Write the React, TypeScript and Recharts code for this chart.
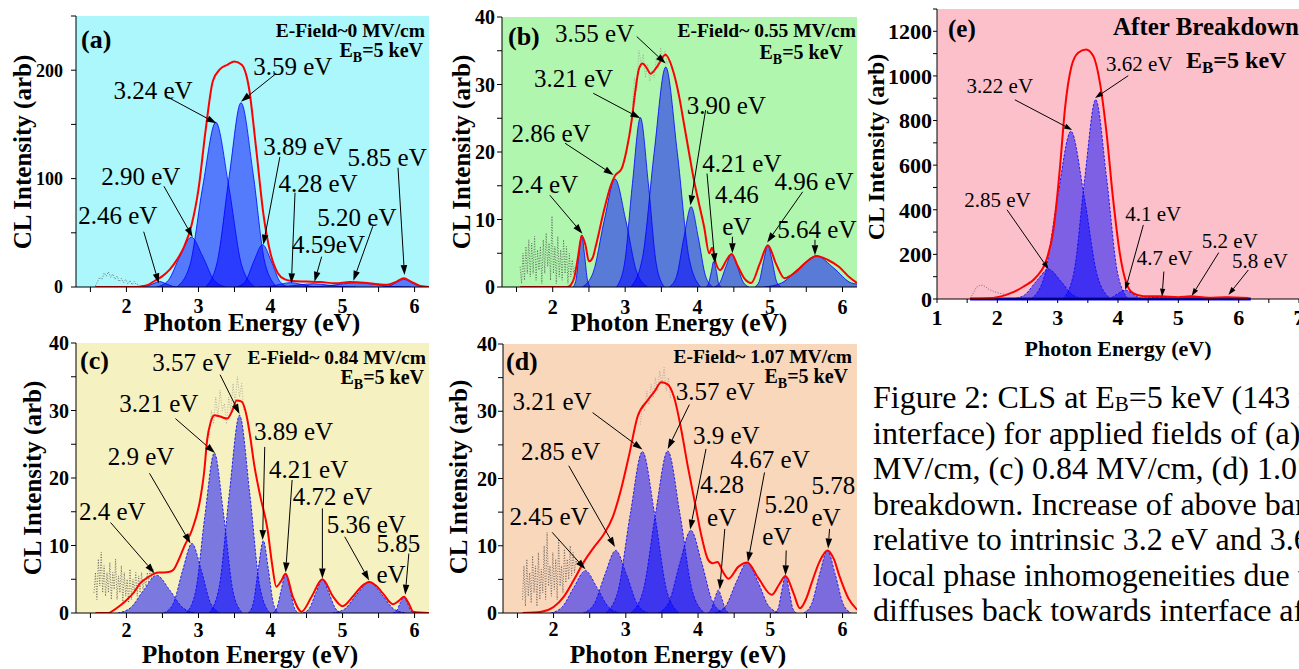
import React from "react";
import {
  ComposedChart,
  Area,
  Line,
  XAxis,
  YAxis,
  CartesianGrid,
  ReferenceLine,
  ReferenceDot,
} from "recharts";

type XY = [number, number];
type Note = { t: string; at: XY; from?: XY; to?: XY };

const FONT = "'Liberation Serif', 'Times New Roman', serif";

// ---------- (a) E-Field ~0 MV/cm ----------
const peaksA: XY[][] = [
  [[2.19, 0], [2.28, 0.7], [2.37, 3], [2.46, 5], [2.55, 3], [2.64, 0.7], [2.73, 0]],
  [[2.42, 0], [2.58, 6], [2.74, 28], [2.9, 46], [3.06, 28], [3.22, 6], [3.38, 0]],
  [[2.7, 0], [2.88, 20], [3.06, 93], [3.24, 152], [3.42, 93], [3.6, 20], [3.78, 0]],
  [[3.1, 0], [3.26, 23], [3.43, 104], [3.59, 170], [3.76, 104], [3.92, 23], [4.09, 0]],
  [[3.53, 0], [3.65, 5], [3.77, 24], [3.89, 39], [4.01, 24], [4.13, 5], [4.25, 0]],
  [[3.83, 0], [3.98, 0.5], [4.13, 2.4], [4.28, 4], [4.43, 2.4], [4.58, 0.5], [4.73, 0]],
  [[3.99, 0], [4.19, 0.4], [4.39, 1.8], [4.59, 3], [4.79, 1.8], [4.99, 0.4], [5.19, 0]],
  [[4.45, 0], [4.7, 0.5], [4.95, 2.4], [5.2, 4], [5.45, 2.4], [5.7, 0.5], [5.95, 0]],
  [[5.55, 0], [5.65, 1], [5.75, 4.3], [5.85, 7], [5.95, 4.3], [6.05, 1], [6.15, 0]],
];
const envA: XY[] = [
  [1.57, 0], [2.1, 0], [2.2, 0.5], [2.3, 2], [2.4, 6], [2.5, 10], [2.6, 16], [2.7, 25],
  [2.8, 37], [2.9, 56], [3.0, 90], [3.1, 145], [3.2, 190], [3.3, 201], [3.4, 205], [3.5, 208],
  [3.6, 205], [3.7, 184], [3.8, 128], [3.9, 68], [4.0, 31], [4.1, 13], [4.2, 7], [4.3, 5.5],
  [4.5, 5], [4.7, 4.5], [4.9, 3.5], [5.1, 4.5], [5.3, 4], [5.5, 2.5], [5.62, 2], [5.75, 5],
  [5.85, 8], [5.95, 5], [6.08, 1], [6.2, 0],
];
const noiseA: XY[][] = [[
  [1.57, 1], [1.6, 5], [1.63, 9], [1.66, 7], [1.69, 13], [1.72, 10], [1.75, 14], [1.78, 9],
  [1.81, 12], [1.84, 7], [1.87, 10], [1.9, 5], [1.93, 8], [1.96, 4], [1.99, 7], [2.02, 3],
  [2.05, 6], [2.08, 2], [2.11, 5], [2.14, 2], [2.17, 3],
]];
const notesA: Note[] = [
  { t: "2.46 eV", at: [1.33, 58], from: [2.24, 51], to: [2.45, 3.4] },
  { t: "2.90 eV", at: [1.65, 94], from: [2.52, 93], to: [2.92, 46] },
  { t: "3.24 eV", at: [1.82, 173], from: [2.55, 176], to: [3.25, 151] },
  { t: "3.59 eV", at: [3.76, 196], from: [4.08, 197], to: [3.59, 171] },
  { t: "3.89 eV", at: [3.9, 122], from: [4.13, 120], to: [3.9, 39] },
  { t: "4.28 eV", at: [4.11, 88], from: [4.34, 87], to: [4.29, 3.4] },
  { t: "4.59eV", at: [4.3, 31], from: [4.71, 28], to: [4.61, 4.9] },
  { t: "5.20 eV", at: [4.65, 56], from: [5.42, 56], to: [5.15, 5.8] },
  { t: "5.85 eV", at: [5.07, 112], from: [5.77, 110], to: [5.86, 11] },
];

// ---------- (b) E-Field ~0.55 MV/cm ----------
const peaksB: XY[][] = [
  [[2.28, 0], [2.32, 1], [2.36, 4.7], [2.4, 7.7], [2.44, 4.7], [2.48, 1], [2.52, 0]],
  [[2.41, 0], [2.56, 2.2], [2.71, 9.8], [2.86, 16], [3.01, 9.8], [3.16, 2.2], [3.31, 0]],
  [[2.88, 0], [2.99, 3.4], [3.1, 15.3], [3.21, 25.1], [3.32, 15.3], [3.43, 3.4], [3.54, 0]],
  [[3.08, 0], [3.24, 4.4], [3.4, 19.9], [3.56, 32.6], [3.72, 19.9], [3.88, 4.4], [4.04, 0]],
  [[3.61, 0], [3.71, 1.6], [3.81, 7.3], [3.91, 11.9], [4.01, 7.3], [4.11, 1.6], [4.21, 0]],
  [[4.12, 0], [4.15, 0.5], [4.19, 2.3], [4.22, 3.75], [4.26, 2.3], [4.29, 0.5], [4.33, 0]],
  [[4.23, 0], [4.31, 0.7], [4.39, 3], [4.47, 4.9], [4.55, 3], [4.63, 0.7], [4.71, 0]],
  [[4.79, 0], [4.85, 0.8], [4.91, 3.8], [4.97, 6.2], [5.03, 3.8], [5.09, 0.8], [5.15, 0]],
  [[4.92, 0], [5.16, 0.6], [5.4, 2.8], [5.64, 4.6], [5.88, 2.8], [6.12, 0.6], [6.2, 0.45]],
];
const envB: XY[] = [
  [1.55, 0], [2.2, 0], [2.25, 0.3], [2.3, 1.5], [2.35, 4.5], [2.4, 7.6], [2.45, 6.3], [2.5, 3.8],
  [2.55, 4.3], [2.6, 6.3], [2.7, 11], [2.8, 15], [2.86, 16.5], [2.95, 17.5], [3.02, 20.3],
  [3.09, 24.7], [3.14, 29], [3.19, 32.3], [3.24, 33.1], [3.3, 32.4], [3.35, 31.6], [3.45, 32.8],
  [3.555, 34.4], [3.67, 31.7], [3.74, 28.5], [3.81, 24.3], [3.88, 20], [3.95, 15.8], [4.02, 12.3],
  [4.09, 8.9], [4.16, 5], [4.2, 5.8], [4.25, 3.6], [4.31, 2.5], [4.4, 4], [4.47, 4.9], [4.55, 3.2],
  [4.65, 1.2], [4.74, 0.6], [4.86, 3.5], [4.97, 6.2], [5.08, 3.5], [5.2, 1.3], [5.35, 2.2],
  [5.5, 3.7], [5.64, 4.6], [5.8, 4], [5.95, 3], [6.1, 1.4], [6.2, 0.6],
];
const noiseB: XY[][] = [
  [
    [1.55, 3], [1.57, 0.5], [1.59, 5], [1.61, 1], [1.63, 6], [1.65, 2], [1.67, 7], [1.69, 1.5],
    [1.71, 6.5], [1.73, 2], [1.75, 7.5], [1.77, 1], [1.79, 5.5], [1.81, 2.5], [1.83, 6], [1.85, 0.5],
    [1.87, 7], [1.89, 2], [1.91, 8], [1.93, 3], [1.95, 6.5], [1.97, 1], [1.99, 10.5], [2.01, 2],
    [2.03, 6], [2.05, 0.5], [2.07, 7.5], [2.09, 1.5], [2.11, 5.5], [2.13, 1], [2.15, 7], [2.17, 2],
    [2.19, 6], [2.21, 0.5], [2.23, 5], [2.25, 1.5], [2.27, 4], [2.29, 2], [2.31, 3],
  ],
  [
    [3.1, 27], [3.13, 31], [3.16, 29], [3.19, 35], [3.22, 33], [3.25, 34.5], [3.28, 31], [3.31, 33],
    [3.34, 30.5], [3.37, 32], [3.4, 31], [3.43, 34], [3.46, 32.5], [3.49, 35.5], [3.52, 33.5],
    [3.55, 35], [3.58, 33], [3.61, 34],
  ],
];
const notesB: Note[] = [
  { t: "2.4 eV", at: [1.43, 13.9], from: [1.96, 13.6], to: [2.41, 7.9] },
  { t: "2.86 eV", at: [1.43, 21.5], from: [2.17, 21.3], to: [2.84, 16.6] },
  { t: "3.21 eV", at: [1.74, 29.7], from: [2.56, 28.7], to: [3.21, 25] },
  { t: "3.55 eV", at: [2.03, 36.3], from: [3.16, 37.1], to: [3.56, 33.1] },
  { t: "3.90 eV", at: [3.85, 25.7], from: [4.11, 26.2], to: [3.9, 12.1] },
  { t: "4.21 eV", at: [4.065, 17.1], from: [4.13, 16.8], to: [4.24, 3.5] },
  { t: "4.46", at: [4.24, 12.4] },
  { t: "eV", at: [4.34, 7.7], from: [4.48, 7.45], to: [4.48, 5.0] },
  { t: "4.96 eV", at: [5.06, 14.4], from: [5.45, 14.1], to: [4.96, 6.6] },
  { t: "5.64 eV", at: [5.1, 7.2], from: [5.62, 7.0], to: [5.62, 4.7] },
];

// ---------- (c) E-Field ~0.84 MV/cm ----------
const peaksC: XY[][] = [
  [[1.88, 0], [2.06, 0.8], [2.24, 3.4], [2.42, 5.6], [2.6, 3.4], [2.78, 0.8], [2.96, 0]],
  [[2.52, 0], [2.65, 1.4], [2.78, 6.3], [2.91, 10.3], [3.04, 6.3], [3.17, 1.4], [3.3, 0]],
  [[2.83, 0], [2.96, 3.2], [3.09, 14.5], [3.22, 23.7], [3.35, 14.5], [3.48, 3.2], [3.61, 0]],
  [[3.15, 0], [3.29, 4], [3.43, 17.9], [3.57, 29.3], [3.71, 17.9], [3.85, 4], [3.99, 0]],
  [[3.69, 0], [3.76, 1.4], [3.83, 6.5], [3.9, 10.7], [3.97, 6.5], [4.04, 1.4], [4.11, 0]],
  [[4.03, 0], [4.09, 0.8], [4.15, 3.5], [4.21, 5.8], [4.27, 3.5], [4.33, 0.8], [4.39, 0]],
  [[4.45, 0], [4.54, 0.7], [4.63, 3], [4.72, 5], [4.81, 3], [4.9, 0.7], [4.99, 0]],
  [[4.86, 0], [5.03, 0.6], [5.2, 2.8], [5.37, 4.6], [5.54, 2.8], [5.71, 0.6], [5.88, 0]],
  [[5.7, 0], [5.75, 0.3], [5.8, 1.5], [5.85, 2.4], [5.9, 1.5], [5.95, 0.3], [6.0, 0]],
];
const envC: XY[] = [
  [1.57, 0], [1.75, 0], [1.82, 0.4], [1.9, 1], [2.0, 1.9], [2.1, 3], [2.19, 4.4], [2.3, 5.3],
  [2.38, 5.8], [2.45, 6], [2.52, 6], [2.6, 6.1], [2.66, 6.5], [2.73, 8], [2.8, 9.8], [2.91, 12.3],
  [3.03, 17.2], [3.08, 21], [3.12, 25.6], [3.17, 28.3], [3.22, 29.3], [3.3, 29.1], [3.4, 28.8],
  [3.47, 30], [3.53, 31.5], [3.6, 31.3], [3.67, 29.1], [3.72, 26], [3.77, 22.2], [3.86, 17.2],
  [3.96, 12.3], [4.02, 7.4], [4.08, 3.9], [4.14, 4.6], [4.21, 5.8], [4.31, 2.4], [4.43, 0.2],
  [4.57, 2.4], [4.72, 5], [4.87, 2.4], [5.0, 1], [5.14, 2.4], [5.26, 3.9], [5.37, 4.6], [5.47, 4],
  [5.56, 2.9], [5.7, 1.3], [5.78, 1.8], [5.85, 2.4], [5.92, 1.4], [5.98, 0.2], [6.2, 0],
];
const noiseC: XY[][] = [
  [
    [1.55, 3], [1.57, 6], [1.59, 2], [1.61, 8], [1.63, 4], [1.65, 9], [1.67, 3], [1.69, 7],
    [1.71, 2.5], [1.73, 6], [1.75, 3], [1.77, 7.5], [1.79, 2], [1.81, 6], [1.83, 3.5], [1.85, 8],
    [1.87, 2], [1.89, 5.5], [1.91, 3], [1.93, 7], [1.95, 1.5], [1.97, 6], [1.99, 2.5], [2.01, 5],
    [2.03, 1.5], [2.05, 6.5], [2.07, 2], [2.09, 5], [2.11, 3], [2.13, 6], [2.15, 2.5], [2.17, 5.5],
    [2.19, 3], [2.21, 6], [2.23, 3.5], [2.25, 5], [2.27, 4], [2.29, 6], [2.31, 4.5], [2.33, 7],
    [2.35, 5], [2.37, 6.5],
  ],
  [
    [3.15, 26], [3.18, 30], [3.21, 28], [3.24, 32], [3.27, 29], [3.3, 33], [3.33, 30], [3.36, 31],
    [3.39, 28], [3.42, 32], [3.45, 30], [3.48, 34], [3.51, 31], [3.54, 35], [3.57, 32], [3.6, 34],
    [3.63, 30],
  ],
];
const notesC: Note[] = [
  { t: "2.4 eV", at: [1.34, 13.8], from: [1.78, 13.4], to: [2.39, 5.9] },
  { t: "2.9 eV", at: [1.74, 21.9], from: [2.32, 20.7], to: [2.89, 10.3] },
  { t: "3.21 eV", at: [1.9, 29.8], from: [2.68, 28.8], to: [3.23, 23.7] },
  { t: "3.57 eV", at: [2.36, 35.9], from: [3.3, 35.3], to: [3.57, 29.5] },
  { t: "3.89 eV", at: [3.77, 25.6], from: [3.92, 24.6], to: [3.89, 10.8] },
  { t: "4.21 eV", at: [3.98, 20.0], from: [4.3, 19.7], to: [4.21, 6.0] },
  { t: "4.72 eV", at: [4.31, 16.0], from: [4.72, 15.5], to: [4.72, 5.1] },
  { t: "5.36 eV", at: [4.78, 11.8], from: [5.03, 11.3], to: [5.37, 4.8] },
  { t: "5.85", at: [5.47, 9.1] },
  { t: "eV", at: [5.47, 4.4], from: [5.92, 8.8], to: [5.87, 2.7] },
];

// ---------- (d) E-Field ~1.07 MV/cm ----------
const peaksD: XY[][] = [
  [[1.96, 0], [2.12, 0.9], [2.28, 3.8], [2.44, 6.3], [2.6, 3.8], [2.76, 0.9], [2.92, 0]],
  [[2.41, 0], [2.56, 1.3], [2.71, 5.7], [2.86, 9.3], [3.01, 5.7], [3.16, 1.3], [3.31, 0]],
  [[2.72, 0], [2.89, 3.2], [3.06, 14.6], [3.23, 24], [3.4, 14.6], [3.57, 3.2], [3.74, 0]],
  [[3.07, 0], [3.24, 3.3], [3.41, 14.7], [3.58, 24.1], [3.75, 14.7], [3.92, 3.3], [4.09, 0]],
  [[3.45, 0], [3.6, 1.7], [3.75, 7.5], [3.9, 12.3], [4.05, 7.5], [4.2, 1.7], [4.35, 0]],
  [[4.13, 0], [4.18, 0.5], [4.23, 2.1], [4.28, 3.4], [4.33, 2.1], [4.38, 0.5], [4.43, 0]],
  [[4.23, 0], [4.38, 1], [4.53, 4.6], [4.68, 7.5], [4.83, 4.6], [4.98, 1], [5.13, 0]],
  [[5.06, 0], [5.11, 0.7], [5.16, 3.4], [5.21, 5.5], [5.26, 3.4], [5.31, 0.7], [5.36, 0]],
  [[5.46, 0], [5.57, 1.3], [5.68, 5.7], [5.79, 9.3], [5.9, 5.7], [6.01, 1.3], [6.12, 0]],
];
const envD: XY[] = [
  [1.57, 0], [1.83, 0.2], [2.0, 0.9], [2.14, 2.4], [2.28, 4.9], [2.42, 7.6], [2.56, 9.8],
  [2.7, 11.8], [2.82, 14.3], [2.93, 18.2], [3.05, 23.7], [3.16, 29.1], [3.3, 31.6], [3.4, 33],
  [3.49, 34.3], [3.58, 34], [3.67, 32], [3.77, 27.1], [3.86, 21.7], [3.96, 16.2], [4.05, 11.3],
  [4.14, 7.9], [4.2, 7.4], [4.27, 7.6], [4.34, 6.2], [4.42, 5.1], [4.56, 6.9], [4.68, 7.5],
  [4.84, 5.1], [5.02, 2.7], [5.12, 4.2], [5.21, 5.5], [5.32, 3.0], [5.41, 0.7], [5.5, 2.2],
  [5.57, 4.4], [5.68, 7.6], [5.79, 9.3], [5.88, 8], [5.96, 5.4], [6.08, 2.2], [6.2, 0.5],
];
const noiseD: XY[][] = [
  [
    [1.57, 2], [1.59, 7], [1.61, 1], [1.63, 8], [1.65, 2.5], [1.67, 6], [1.69, 1.5], [1.71, 8.5],
    [1.73, 3], [1.75, 7], [1.77, 1], [1.79, 9], [1.81, 2], [1.83, 6.5], [1.85, 3], [1.87, 10],
    [1.89, 2], [1.91, 12], [1.93, 4], [1.95, 7], [1.97, 2.5], [1.99, 9], [2.01, 3.5], [2.03, 8],
    [2.05, 2], [2.07, 11], [2.09, 4], [2.11, 7], [2.13, 3], [2.15, 9.5], [2.17, 4.5], [2.19, 8],
    [2.21, 5], [2.23, 10], [2.25, 5.5], [2.27, 9], [2.29, 6], [2.31, 8], [2.33, 7],
  ],
  [
    [3.2, 28], [3.23, 31], [3.26, 30], [3.29, 33], [3.32, 31], [3.35, 34], [3.38, 32], [3.41, 35],
    [3.44, 33], [3.47, 36], [3.5, 34], [3.53, 36.5], [3.56, 33], [3.59, 35], [3.62, 32],
  ],
];
const notesD: Note[] = [
  { t: "3.21 eV", at: [1.43, 30.2], from: [2.54, 29.8], to: [3.23, 24.3] },
  { t: "3.57 eV", at: [3.69, 31.6], from: [3.88, 31.0], to: [3.58, 24.4] },
  { t: "2.85 eV", at: [1.55, 22.7], from: [2.21, 21.9], to: [2.85, 9.8] },
  { t: "3.9 eV", at: [3.93, 25.1], from: [4.11, 24.4], to: [3.89, 12.4] },
  { t: "4.28", at: [4.03, 17.9] },
  { t: "eV", at: [4.125, 13.0], from: [4.37, 12.5], to: [4.3, 3.5] },
  { t: "4.67 eV", at: [4.45, 21.5], from: [4.92, 20.9], to: [4.69, 7.6] },
  { t: "5.20", at: [4.92, 14.8] },
  { t: "eV", at: [4.89, 10.1], from: [5.22, 9.3], to: [5.21, 5.6] },
  { t: "5.78", at: [5.57, 17.7] },
  { t: "eV", at: [5.57, 13.0], from: [5.82, 12.5], to: [5.8, 9.6] },
  { t: "2.45 eV", at: [1.39, 13.1], from: [1.98, 12.0], to: [2.44, 6.5] },
];

// ---------- (e) after breakdown ----------
const peaksE: XY[][] = [
  [[2.25, 0], [2.45, 18], [2.65, 81], [2.85, 133], [3.05, 81], [3.25, 18], [3.45, 0]],
  [[2.56, 0], [2.78, 102], [3.0, 459], [3.22, 752], [3.44, 459], [3.66, 102], [3.88, 0]],
  [[3.09, 0], [3.27, 121], [3.45, 545], [3.63, 894], [3.81, 545], [3.99, 121], [4.17, 0]],
  [[3.76, 0], [3.88, 5], [4.0, 24], [4.12, 40], [4.24, 24], [4.36, 5], [4.48, 0]],
  [[4.1, 0], [4.3, 1], [4.5, 5], [4.7, 8], [4.9, 5], [5.1, 1], [5.3, 0]],
  [[4.45, 0], [4.7, 1.4], [4.95, 6], [5.2, 10], [5.45, 6], [5.7, 1.4], [5.95, 0]],
  [[5.35, 0], [5.5, 1], [5.65, 5], [5.8, 8], [5.95, 5], [6.1, 1], [6.2, 0]],
];
const envE: XY[] = [
  [1.55, 0], [1.93, 5], [2.21, 25], [2.43, 55], [2.65, 100], [2.82, 180], [2.93, 310],
  [3.04, 595], [3.12, 850], [3.23, 1044], [3.34, 1104], [3.47, 1119], [3.59, 1089], [3.7, 970],
  [3.81, 745], [3.92, 445], [4.03, 205], [4.14, 70], [4.25, 26], [4.42, 12], [4.7, 12], [5.0, 8],
  [5.2, 12], [5.5, 6], [5.8, 8], [6.16, 5],
];
const noiseE: XY[][] = [[
  [1.55, 3], [1.6, 25], [1.65, 52], [1.7, 60], [1.75, 62], [1.8, 56], [1.85, 45], [1.9, 38],
  [2.0, 28], [2.1, 22], [2.2, 20],
]];
const notesE: Note[] = [
  { t: "3.22 eV", at: [1.49, 923], from: [2.29, 893], to: [3.24, 758] },
  { t: "3.62 eV", at: [3.8, 1020], from: [4.17, 1001], to: [3.62, 901] },
  { t: "2.85 eV", at: [1.45, 414], from: [2.16, 400], to: [2.85, 133] },
  { t: "4.1 eV", at: [4.12, 351], from: [4.42, 332], to: [4.12, 40] },
  { t: "4.7 eV", at: [4.31, 153], from: [4.76, 123], to: [4.73, 10] },
  { t: "5.2 eV", at: [5.39, 227], from: [5.67, 208], to: [5.22, 13] },
  { t: "5.8 eV", at: [5.89, 138], from: [6.16, 130], to: [5.83, 18] },
];

const ticksX = [1.5, 2, 2.5, 3, 3.5, 4, 4.5, 5, 5.5, 6];
const ticksXE = [1, 1.5, 2, 2.5, 3, 3.5, 4, 4.5, 5, 5.5, 6, 6.5, 7];
const ticksY40 = [0, 5, 10, 15, 20, 25, 30, 35, 40];
const ticksYA = [0, 50, 100, 150, 200, 250];
const ticksYE = [0, 100, 200, 300, 400, 500, 600, 700, 800, 900, 1000, 1100, 1200, 1300];

const toPts = (a: XY[]) => a.map(([x, y]) => ({ x, y }));

type PanelCfg = {
  left: number; top: number; w: number; h: number;
  xDomain: XY; yDomain: XY; xTicks: number[]; yTicks: number[]; yMajor: number;
  bg: string; peaks: XY[][]; env: XY[]; noise: XY[][]; notes: Note[];
  dashed: boolean; xTickFont: number; yTickFont: number; xTickMargin: number;
  yTickMargin: number; tickSize: number; noteFont: number; head: number; blueBase?: boolean;
};

const panels: PanelCfg[] = [
  { left: 76, top: 16, w: 353, h: 271, xDomain: [1.3, 6.2], yDomain: [0, 250], xTicks: ticksX,
    yTicks: ticksYA, yMajor: 100, bg: "#abf7fb", peaks: peaksA, env: envA, noise: noiseA,
    notes: notesA, dashed: false, xTickFont: 20, yTickFont: 18, xTickMargin: 7, yTickMargin: 8,
    tickSize: 5, noteFont: 25, head: 10 },
  { left: 502, top: 17, w: 355, h: 270, xDomain: [1.3, 6.2], yDomain: [0, 40], xTicks: ticksX,
    yTicks: ticksY40, yMajor: 10, bg: "#b0f6ae", peaks: peaksB, env: envB, noise: noiseB,
    notes: notesB, dashed: false, xTickFont: 20, yTickFont: 20, xTickMargin: 8, yTickMargin: 2,
    tickSize: 5, noteFont: 25, head: 10 },
  { left: 76, top: 343, w: 353, h: 270, xDomain: [1.3, 6.2], yDomain: [0, 40], xTicks: ticksX,
    yTicks: ticksY40, yMajor: 10, bg: "#f6f1c1", peaks: peaksC, env: envC, noise: noiseC,
    notes: notesC, dashed: true, xTickFont: 20, yTickFont: 20, xTickMargin: 5, yTickMargin: 2,
    tickSize: 5, noteFont: 25, head: 10 },
  { left: 503, top: 344, w: 354, h: 269, xDomain: [1.3, 6.2], yDomain: [0, 40], xTicks: ticksX,
    yTicks: ticksY40, yMajor: 10, bg: "#f9d7bb", peaks: peaksD, env: envD, noise: noiseD,
    notes: notesD, dashed: true, xTickFont: 20, yTickFont: 20, xTickMargin: 4, yTickMargin: 1,
    tickSize: 5, noteFont: 25, head: 10 },
  { left: 937, top: 9, w: 362, h: 290, xDomain: [1, 7], yDomain: [0, 1300], xTicks: ticksXE,
    yTicks: ticksYE, yMajor: 200, bg: "#fcc0ca", peaks: peaksE, env: envE, noise: noiseE,
    notes: notesE, dashed: true, xTickFont: 22, yTickFont: 22, xTickMargin: 6, yTickMargin: 1,
    tickSize: 4, noteFont: 21, head: 8, blueBase: true },
];

const makeArrow = (head: number) => (props: any) => {
  const { x1, y1, x2, y2 } = props;
  const ang = Math.atan2(y2 - y1, x2 - x1);
  const bx = x2 - head * Math.cos(ang);
  const by = y2 - head * Math.sin(ang);
  const hw = head * 0.33;
  const px = -Math.sin(ang) * hw;
  const py = Math.cos(ang) * hw;
  return (
    <g>
      <line x1={x1} y1={y1} x2={bx} y2={by} stroke="#000" strokeWidth={1} />
      <polygon points={`${x2},${y2} ${bx + px},${by + py} ${bx - px},${by - py}`} fill="#000" />
    </g>
  );
};

function Panel({ c }: { c: PanelCfg }) {
  const ML = 90, MT = 20, MR = 20, MB = 50;
  const W = c.w + ML + MR;
  const H = c.h + MT + MB;
  const xTick = { fontFamily: FONT, fontWeight: 700, fontSize: c.xTickFont, fill: "#000" };
  const yTick = { fontFamily: FONT, fontWeight: 700, fontSize: c.yTickFont, fill: "#000" };
  const Arrow = makeArrow(c.head);
  const dash = c.dashed ? "2.5 1.5" : undefined;
  return (
    <div style={{ position: "absolute", left: c.left - ML, top: c.top - MT }}>
      <ComposedChart width={W} height={H} margin={{ top: MT, right: MR, bottom: MB - 40, left: ML - 60 }}>
        <CartesianGrid fill={c.bg} fillOpacity={1} horizontal={false} vertical={false} stroke="none" />
        <XAxis type="number" dataKey="x" domain={c.xDomain} ticks={c.xTicks} interval={0}
          allowDataOverflow height={40} tickSize={c.tickSize} tickMargin={c.xTickMargin} tick={xTick}
          tickFormatter={(v: number) => (Number.isInteger(v) ? String(v) : "")} stroke="#000" />
        <YAxis type="number" domain={c.yDomain} ticks={c.yTicks} interval={0} allowDataOverflow
          width={60} tickSize={c.tickSize} tickMargin={c.yTickMargin} tick={yTick}
          tickFormatter={(v: number) => (v % c.yMajor === 0 ? String(v) : "")} stroke="#000" />
        <XAxis xAxisId="m" orientation="top" type="number" domain={c.xDomain} ticks={c.xTicks}
          interval={0} allowDataOverflow height={0} mirror tickSize={4} tickFormatter={() => ""} stroke="#000" />
        <YAxis yAxisId="m" orientation="right" type="number" domain={c.yDomain} ticks={c.yTicks}
          interval={0} allowDataOverflow width={0} mirror tickSize={4} tickFormatter={() => ""} stroke="#000" />
        {c.peaks.map((pk, i) => (
          <Area key={`p${i}`} data={toPts(pk)} dataKey="y" type="monotone" fill="#0000ff"
            fillOpacity={0.5} stroke="#0000ff" strokeWidth={0.8} strokeDasharray={dash}
            dot={false} activeDot={false} isAnimationActive={false} />
        ))}
        {c.noise.map((seg, i) => (
          <Line key={`n${i}`} data={toPts(seg)} dataKey="y" type="linear" stroke={i === 0 ? "#555" : "#888"}
            strokeWidth={i === 0 ? 0.8 : 0.6} strokeDasharray="1 1.6" dot={false} activeDot={false}
            isAnimationActive={false} />
        ))}
        {c.blueBase && (
          <ReferenceLine segment={[{ x: 1.55, y: 0 }, { x: 6.2, y: 0 }]} stroke="#0000ff"
            strokeWidth={3} ifOverflow="visible" />
        )}
        <Line data={toPts(c.env)} dataKey="y" type="monotone" stroke="#ff0000" strokeWidth={2}
          dot={false} activeDot={false} isAnimationActive={false} />
        {c.notes.filter((n) => n.from && n.to).map((n, i) => (
          <ReferenceLine key={`a${i}`} ifOverflow="visible"
            segment={[{ x: n.from![0], y: n.from![1] }, { x: n.to![0], y: n.to![1] }]} shape={Arrow} />
        ))}
        {c.notes.map((n, i) => (
          <ReferenceDot key={`t${i}`} x={n.at[0]} y={n.at[1]} r={0} ifOverflow="visible"
            shape={(p: any) => (
              <text x={p.cx} y={p.cy} fontFamily={FONT} fontSize={c.noteFont} fill="#000">{n.t}</text>
            )} />
        ))}
      </ComposedChart>
    </div>
  );
}

// ---------- overlay text (titles, panel tags, caption) ----------
const yTitles = [
  { x: 22, y: 152, s: 25 }, { x: 461, y: 152, s: 25 }, { x: 32, y: 478, s: 25 },
  { x: 458, y: 477, s: 25 }, { x: 876, y: 147, s: 24 },
];
const xTitles = [
  { x: 252, y: 331, s: 25.5 }, { x: 679, y: 331, s: 25.5 }, { x: 250, y: 663, s: 25.5 },
  { x: 678, y: 663, s: 25.5 }, { x: 1118, y: 356, s: 22 },
];
const tags = [
  { t: "(a)", x: 81, y: 48, s: 26 }, { t: "(b)", x: 508, y: 45, s: 26 },
  { t: "(c)", x: 80, y: 369, s: 26 }, { t: "(d)", x: 506, y: 370, s: 26 },
  { t: "(e)", x: 948, y: 37, s: 25 },
];
const fields = [
  { t: "E-Field~0 MV/cm", x: 425, y: 37 }, { t: "E-Field~ 0.55 MV/cm", x: 856, y: 37 },
  { t: "E-Field~ 0.84 MV/cm", x: 426, y: 364 }, { t: "E-Field~ 1.07 MV/cm", x: 852, y: 363 },
];
const beams = [
  { x: 423, y: 57 }, { x: 843, y: 59 }, { x: 424, y: 384 }, { x: 848, y: 383 },
];
const captionLines = [
  "interface) for applied fields of (a) 0,",
  "MV/cm, (c) 0.84 MV/cm, (d) 1.07",
  "breakdown. Increase of above band",
  "relative to intrinsic 3.2 eV and 3.6",
  "local phase inhomogeneities due to",
  "diffuses back towards interface after",
];

function Overlay() {
  return (
    <svg width={1299} height={669} style={{ position: "absolute", left: 0, top: 0, pointerEvents: "none" }}
      fontFamily={FONT}>
      {yTitles.map((t, i) => (
        <text key={`y${i}`} transform={`translate(${t.x},${t.y}) rotate(-90)`} textAnchor="middle"
          dominantBaseline="central" fontWeight={700} fontSize={t.s}>CL Intensity (arb)</text>
      ))}
      {xTitles.map((t, i) => (
        <text key={`x${i}`} x={t.x} y={t.y} textAnchor="middle" fontWeight={700} fontSize={t.s}>
          Photon Energy (eV)
        </text>
      ))}
      {tags.map((t, i) => (
        <text key={`g${i}`} x={t.x} y={t.y} fontWeight={700} fontSize={t.s}>{t.t}</text>
      ))}
      {fields.map((t, i) => (
        <text key={`f${i}`} x={t.x} y={t.y} textAnchor="end" fontWeight={700} fontSize={19.5}>{t.t}</text>
      ))}
      {beams.map((t, i) => (
        <text key={`b${i}`} x={t.x} y={t.y} textAnchor="end" fontWeight={700} fontSize={20}>
          E<tspan fontSize={14} dy={5}>B</tspan><tspan dy={-5}>=5 keV</tspan>
        </text>
      ))}
      <text x={1113} y={35} fontWeight={700} fontSize={25}>After Breakdown</text>
      <text x={1186} y={68} fontWeight={700} fontSize={24}>
        E<tspan fontSize={17} dy={5}>B</tspan><tspan dy={-5}>=5 keV</tspan>
      </text>
      <text x={873} y={408} fontSize={32}>
        Figure 2: CLS at E<tspan fontSize={21} dy={3}>B</tspan><tspan dy={-3}>=5 keV (143 nm</tspan>
      </text>
      {captionLines.map((l, i) => (
        <text key={`c${i}`} x={873} y={408 + 35.5 * (i + 1)} fontSize={32}>{l}</text>
      ))}
    </svg>
  );
}

export default function App() {
  return (
    <div style={{ position: "fixed", left: 0, top: 0, width: 1299, height: 669, overflow: "hidden", background: "#fff" }}>
      {panels.map((c, i) => (
        <Panel key={i} c={c} />
      ))}
      <Overlay />
    </div>
  );
}
